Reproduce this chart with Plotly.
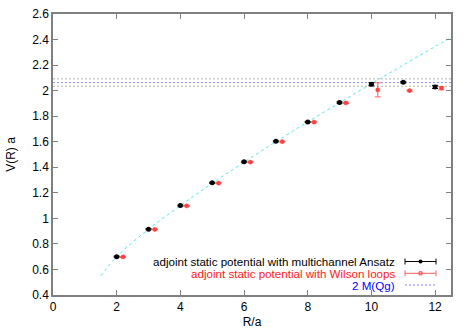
import plotly.graph_objects as go

# Data
R_multi = [2, 3, 4, 5, 6, 7, 8, 9, 10, 11, 12]
V_multi = [0.700, 0.915, 1.100, 1.278, 1.443, 1.603, 1.755, 1.907, 2.050, 2.066, 2.029]
E_multi = [0.004, 0.004, 0.004, 0.004, 0.004, 0.004, 0.004, 0.005, 0.012, 0.006, 0.012]

R_wilson = [2.2, 3.2, 4.2, 5.2, 6.2, 7.2, 8.2, 9.2, 10.2, 11.2, 12.2]
V_wilson = [0.698, 0.913, 1.098, 1.276, 1.441, 1.601, 1.753, 1.904, 2.006, 2.000, 2.019]
E_wilson = [0.004, 0.004, 0.004, 0.004, 0.004, 0.004, 0.004, 0.005, 0.055, 0.006, 0.012]

R_fit = [1.5, 2, 3, 4, 5, 6, 7, 8, 9, 10, 11, 12, 12.5]
V_fit = [0.550, 0.700, 0.915, 1.100, 1.275, 1.440, 1.600, 1.755, 1.905, 2.055, 2.200, 2.345, 2.415]

M_Qg = 2.063
M_Qg_err = 0.029

x_ticks = [0, 2, 4, 6, 8, 10, 12]
y_ticks = [0.4, 0.6, 0.8, 1.0, 1.2, 1.4, 1.6, 1.8, 2.0, 2.2, 2.4, 2.6]
y_tick_text = ["0.4", "0.6", "0.8", "1", "1.2", "1.4", "1.6", "1.8", "2", "2.2", "2.4", "2.6"]

XR = [0, 12.5]
YR = [0.4, 2.6]

fig = go.Figure()

# band lines
for yv in (M_Qg + M_Qg_err, M_Qg - M_Qg_err):
    fig.add_trace(go.Scatter(x=XR, y=[yv, yv], mode="lines",
                             line=dict(color="#b4b4b4", width=1, dash="2px,2px"),
                             showlegend=False, hoverinfo="skip"))
fig.add_trace(go.Scatter(x=XR, y=[M_Qg, M_Qg], mode="lines",
                         line=dict(color="#9090ff", width=1, dash="2px,2px"),
                         showlegend=False, hoverinfo="skip"))

# fit curve
fig.add_trace(go.Scatter(x=R_fit, y=V_fit, mode="lines",
                         line=dict(color="#50e8e8", width=1, dash="3px,3px", shape="spline"),
                         showlegend=False, hoverinfo="skip"))

# Wilson loops
fig.add_trace(go.Scatter(x=R_wilson, y=V_wilson, mode="markers",
                         marker=dict(symbol="asterisk-open", size=4, color="#ff4040",
                                     line=dict(color="#ff4040", width=1.2)),
                         error_y=dict(type="data", array=E_wilson, color="#ff6060",
                                      thickness=1, width=3),
                         showlegend=False))

# multichannel
fig.add_trace(go.Scatter(x=R_multi, y=V_multi, mode="markers",
                         marker=dict(symbol="circle", size=5, color="black"),
                         error_y=dict(type="data", array=E_multi, color="black",
                                      thickness=1, width=3),
                         showlegend=False))

W, H = 471, 330
ml, mr, mt, mb = 53, 20, 14, 35
pw, ph = W - ml - mr, H - mt - mb

def px_to_xpaper(px):
    return (px - ml) / pw

def py_to_ypaper(py):
    return 1 - (py - mt) / ph

shapes = []
annotations = []
legend_items = [
    ("adjoint static potential with multichannel Ansatz", "black", "err", 261.5),
    ("adjoint static potential with Wilson loops", "#ff2020", "err_red", 273.3),
    ("2 M(Qg)", "#0000ff", "line", 285.0),
]

for text, col, kind, py in legend_items:
    yp = py_to_ypaper(py)
    annotations.append(dict(x=px_to_xpaper(397), y=yp, xref="paper", yref="paper",
                            text=text, showarrow=False, xanchor="right", yanchor="middle",
                            font=dict(color=col, size=11.6)))
    x0, x1 = px_to_xpaper(405), px_to_xpaper(436)
    if kind == "line":
        shapes.append(dict(type="line", xref="paper", yref="paper", x0=x0, x1=x1, y0=yp, y1=yp,
                           line=dict(color="#8080ff", width=1, dash="2px,2px")))
    else:
        lc = "black" if kind == "err" else "#ff6060"
        shapes.append(dict(type="line", xref="paper", yref="paper", x0=x0, x1=x1, y0=yp, y1=yp,
                           line=dict(color=lc, width=1)))
        for xx in (x0, x1):
            shapes.append(dict(type="line", xref="paper", yref="paper", x0=xx, x1=xx,
                               y0=yp - 3 / ph, y1=yp + 3 / ph, line=dict(color=lc, width=1)))
        xm = (x0 + x1) / 2
        if kind == "err":
            shapes.append(dict(type="circle", xref="paper", yref="paper",
                               x0=xm - 2 / pw, x1=xm + 2 / pw, y0=yp - 2 / ph, y1=yp + 2 / ph,
                               fillcolor="black", line=dict(color="black", width=0)))
        else:
            shapes.append(dict(type="rect", xref="paper", yref="paper",
                               x0=xm - 1.5 / pw, x1=xm + 1.5 / pw, y0=yp - 1.5 / ph, y1=yp + 1.5 / ph,
                               fillcolor="rgba(0,0,0,0)", line=dict(color="#ff4040", width=1)))

fig.update_layout(
    width=W, height=H,
    margin=dict(l=ml, r=mr, t=mt, b=mb, autoexpand=False),
    paper_bgcolor="white", plot_bgcolor="white",
    font=dict(family="Liberation Sans, Arial, sans-serif", size=12, color="black"),
    showlegend=False,
    shapes=shapes,
    annotations=annotations,
    xaxis=dict(range=XR, tickvals=x_ticks, ticks="inside", ticklen=5, tickcolor="#808080",
               showgrid=False, zeroline=False, showline=True, linecolor="#808080", linewidth=1.5,
               mirror="ticks", automargin=False, tickfont=dict(size=12),
               title=dict(text="R/a", standoff=4, font=dict(size=12))),
    yaxis=dict(range=YR, tickvals=y_ticks, ticktext=y_tick_text, ticks="inside", ticklen=5,
               tickcolor="#808080", showgrid=False, zeroline=False, showline=True,
               linecolor="#808080", linewidth=1.5, mirror="ticks", automargin=False,
               tickfont=dict(size=12),
               title=dict(text="V(R) a", standoff=14, font=dict(size=12))),
)

# Remove the default 8px body margin so the figure fills the window exactly.
fig.write_html("out.html", config={"displayModeBar": False},
               post_script="document.body.style.margin='0';")
